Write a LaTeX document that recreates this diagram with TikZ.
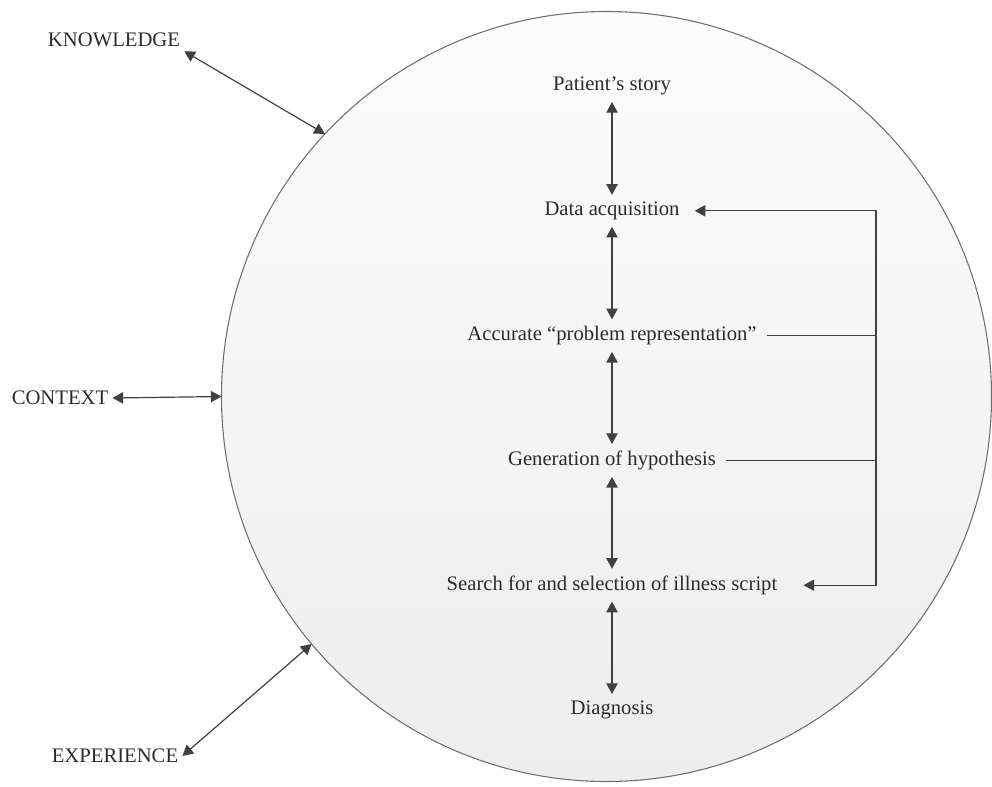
\documentclass[tikz,border=0pt]{standalone}
\usepackage{fontspec}
\setmainfont{Liberation Serif}
\usepackage{xcolor}
\usetikzlibrary{arrows.meta,positioning,shapes.geometric}
\definecolor{textgray}{HTML}{2B2B2B}
\definecolor{linegray}{HTML}{404040}
\definecolor{rimgray}{HTML}{6E6E6E}

\begin{document}
\begin{tikzpicture}[
    x=0.75pt, y=-0.75pt,
    node distance=93.6pt,
    >={Triangle[length=8pt,width=8.5pt]},
    font=\fontsize{15.5}{18}\selectfont,
    stage/.style={
        inner xsep=7.5pt,
        inner ysep=5pt,
        text=textgray
    },
    factor/.style={
        inner sep=3pt,
        text=textgray
    },
    link/.style={
        draw=linegray,
        line width=0.9pt
    }
  ]
  \useasboundingbox (0,0) rectangle (992,786);

  % the big circle everything happens in
  \node [circle, draw=rimgray, line width=0.8pt, outer sep=0pt,
         minimum size=577.5pt, top color=black!1, bottom color=black!7]
        (mind) at (606.5,396.5) {};

  % outside factors
  \node [factor] (knowledge) at (114,40) {KNOWLEDGE};
  \node [factor] (context) at (60,398) {CONTEXT};
  \node [factor] (experience) at (115,756) {EXPERIENCE};

  % the reasoning steps
  \node [stage] (patient) at (612,86) {Patient’s story};
  \node [stage, below of=patient] (data) {Data acquisition};
  \node [stage, below of=data] (problem) {Accurate “problem representation”};
  \node [stage, below of=problem] (hypo) {Generation of hypothesis};
  \node [stage, below of=hypo] (search) {Search for and selection of illness script};
  \node [stage, below of=search] (diagnosis) {Diagnosis};

  \coordinate (bus) at (876,0);

  \draw [link,<->] (knowledge.south east) -- (mind.137.3);
  \draw [link,<->] (context.east) -- (mind.180);
  \draw [link,<->] (experience.east) -- (mind.220.8);

  \draw [link,<->] (patient) -- (data);
  \draw [link,<->] (data) -- (problem);
  \draw [link,<->] (problem) -- (hypo);
  \draw [link,<->] (hypo) -- (search);
  \draw [link,<->] (search) -- (diagnosis);

  % feedback loop on the right
  \draw [link,<->, shorten <=3.75pt, shorten >=12pt]
        (data.east) -- (data -| bus) -- (search -| bus) -- (search.east);
  \draw [link] (problem.east) -- (problem -| bus);
  \draw [link] (hypo.east) -- (hypo -| bus);
\end{tikzpicture}
\end{document}
